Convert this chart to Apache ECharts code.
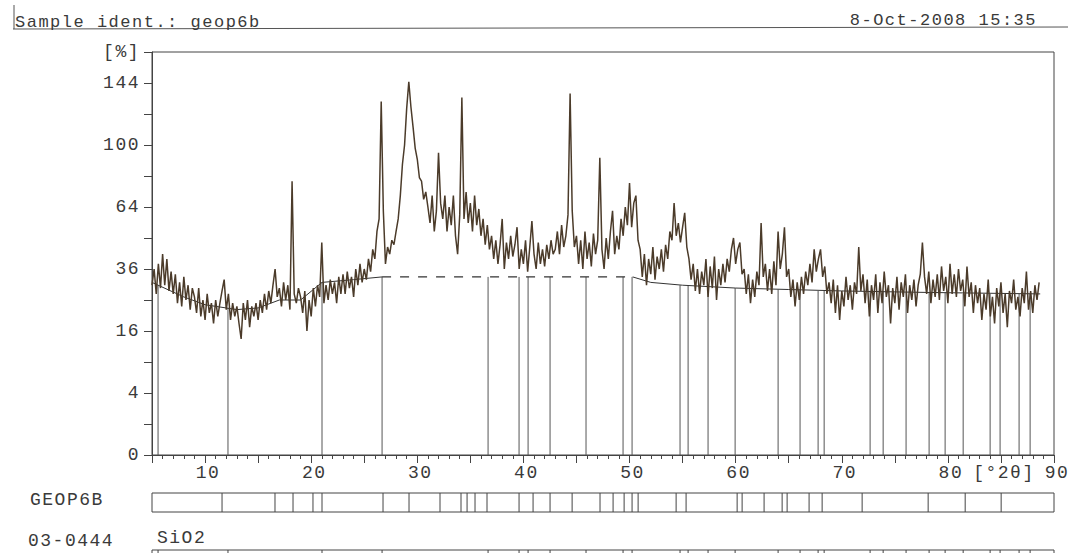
<!DOCTYPE html>
<html><head><meta charset="utf-8">
<script src="https://cdn.jsdelivr.net/npm/echarts@6/dist/echarts.min.js"></script>
<style>
html,body{margin:0;padding:0;background:#fff;}
#chart{width:1077px;height:553px;}
#chart text{letter-spacing:1.5px;}
</style></head>
<body><div id="chart"></div>
<script>
// ---- data ----
const scanStart = 5.0;   // °2θ of first step
const scanStep = 0.2;    // °2θ per step
const intensity = [
  30,36,27,38,29,42,30,40,28,35,
  27,34,24,31,23,33,25,30,22,29,
  26,21,29,20,25,19,27,21,24,18,
  25,20,24,28,32,22,27,19,24,20,
  23,18,14,24,19,25,17,23,20,24,
  19,25,21,27,22,28,24,30,36,26,
  29,23,31,25,30,22,78,27,24,29,
  26,21,28,16,25,20,29,23,30,26,
  47,24,30,25,32,27,31,24,33,27,
  34,27,35,29,33,26,36,30,38,31,
  36,32,40,35,44,40,52,58,130,62,
  38,45,42,48,46,52,58,70,88,100,
  125,145,126,112,98,91,80,78,68,72,
  64,56,70,52,62,95,66,58,70,52,
  64,55,70,50,42,60,133,58,72,56,
  66,52,70,55,63,50,58,46,55,44,
  50,40,48,38,46,58,36,47,40,50,
  41,46,54,36,44,38,48,35,45,57,
  42,36,47,38,44,37,46,40,48,42,
  44,52,42,55,45,50,60,136,62,45,
  50,38,48,36,52,40,47,37,51,42,
  48,92,44,36,49,40,52,62,42,50,
  44,58,50,64,55,77,54,66,70,48,
  44,33,42,30,40,34,45,32,41,36,
  44,35,46,40,52,48,66,50,56,47,
  54,61,45,40,32,38,28,36,27,35,
  30,40,26,37,29,41,25,36,30,38,
  31,40,35,44,49,38,44,47,34,36,
  27,34,24,32,26,35,30,56,33,38,
  28,36,27,39,30,52,36,42,54,33,
  36,26,32,23,31,25,33,27,35,30,
  38,31,44,35,40,44,33,37,27,31,
  24,32,21,30,19,28,23,33,25,30,
  22,31,27,45,28,34,24,32,20,30,
  25,34,21,31,24,35,26,30,18,29,
  24,33,22,31,26,34,21,30,25,32,
  23,30,34,47,33,27,35,24,32,26,
  34,25,37,28,33,24,38,27,34,26,
  36,28,32,23,37,26,31,21,30,24,
  29,19,27,22,32,20,26,18,29,23,
  31,21,27,17,28,24,32,22,26,20,
  29,24,35,22,28,21,30,25,31
];

// background curve (%), solid parts and dashed part
const bgLeftAngle  = [5, 8, 10, 13, 15, 17, 19, 21.02, 24, 26.68];
const bgLeftLevel  = [31, 26, 23.5, 22, 22.5, 25, 25, 31, 32, 33];
const bgDashAngle  = [26.68, 50.3];
const bgDashLevel  = [33, 33];
const bgRightAngle = [50.3, 52, 55, 60, 65, 70, 78, 88.7];
const bgRightLevel = [33, 31, 30, 29, 28.5, 28, 27.5, 27];

// reference pattern 03-0444 SiO2 line positions (°2θ) and stick tops (%)
const sio2Lines = [5.57,12.16,21.02,26.68,36.67,39.59,40.44,42.51,45.90,49.39,50.24,54.76,55.52,57.40,59.95,64.00,66.07,67.77,68.34,72.67,73.90,76.06,78.23,79.74,81.44,83.98,84.92,86.71,87.75];
const sio2Tops  = [30,22.5,31,33,33,33,33,33,33,33,33,30,30,29.5,29,28.5,28.5,28,28,28,28,27.5,27.5,27.5,27,27,27,27,27];

// sample GEOP6B peak list (°2θ)
const sampleLines = [11.60,16.59,18.29,20.17,21.02,26.77,29.22,32.14,34.12,34.69,35.44,36.57,39.59,40.91,42.51,44.59,47.22,48.45,49.49,50.24,50.81,54.39,55.33,60.14,60.61,62.68,64.38,64.85,66.92,68.15,71.92,78.14,81.63,85.02];

const xTickLabels = [10,20,30,40,50,60,70,80,90];
const xUnitLabel = '[°2θ]';
const yTickLabels = [0,4,16,36,64,100,144];
const yUnitLabel = '[%]';

const headerLeft = 'Sample ident.: geop6b';
const headerRight = '8-Oct-2008 15:35';
const sampleName = 'GEOP6B';
const refCode = '03-0444';
const refName = 'SiO2';

// ---- chart ----
const FONT = '"Liberation Mono", "DejaVu Sans Mono", monospace';
const TXT = '#3a3a3a';
const AX = '#444';
const sq = v => Math.sqrt(v);

const trace = intensity.map((v, i) => [+(scanStart + i * scanStep).toFixed(2), sq(v)]);
const pairs = (a, l) => a.map((x, i) => [x, sq(l[i])]);

function vline(color) {
  return function (params, api) {
    const p0 = api.coord([api.value(0), api.value(1)]);
    const p1 = api.coord([api.value(0), api.value(2)]);
    return { type: 'line', shape: { x1: p0[0], y1: p0[1], x2: p1[0], y2: p1[1] },
             style: { stroke: color, lineWidth: 1 } };
  };
}

const chart = echarts.init(document.getElementById('chart'), null, { renderer: 'svg' });
const rowAxisX = gi => ({ gridIndex: gi, type: 'value', min: 5, max: 90, show: false });
const rowAxisY = gi => ({ gridIndex: gi, type: 'value', min: 0, max: 1, show: false });

chart.setOption({
  animation: false,
  backgroundColor: '#fff',
  grid: [
    { left: 152, right: 23, top: 52, bottom: 98, show: true, borderColor: AX, borderWidth: 1, containLabel: false, outerBoundsMode: 'none' },
    { left: 152, right: 23, top: 493, height: 19, show: true, borderColor: AX, borderWidth: 1, containLabel: false, outerBoundsMode: 'none' },
    { left: 152, right: 23, top: 550, height: 20, show: true, borderColor: AX, borderWidth: 1, containLabel: false, outerBoundsMode: 'none' }
  ],
  xAxis: [
    { gridIndex: 0, type: 'value', min: 5, max: 90, interval: 5, position: 'bottom',
      axisLine: { show: true, lineStyle: { color: AX, width: 1 } },
      axisTick: { show: true, length: 8, lineStyle: { color: AX, width: 1 } },
      minorTick: { show: true, splitNumber: 5, length: 4, lineStyle: { color: AX, width: 1 } },
      splitLine: { show: false }, minorSplitLine: { show: false },
      axisLabel: { show: true, margin: 9, color: TXT, fontFamily: FONT, fontSize: 18, padding: [0, 0, 0, 6],
        showMinLabel: true, showMaxLabel: true,
        formatter: v => (v === 85 ? xUnitLabel : (xTickLabels.indexOf(v) >= 0 ? String(v) : '')) } },
    rowAxisX(1), rowAxisX(2)
  ],
  yAxis: [
    { gridIndex: 0, type: 'value', min: 0, max: 13, interval: 1,
      axisLine: { show: true, lineStyle: { color: AX, width: 1 } },
      axisTick: { show: true, length: 8, lineStyle: { color: AX, width: 1 } },
      splitLine: { show: false },
      axisLabel: { show: true, margin: 12, color: TXT, fontFamily: FONT, fontSize: 18,
        showMinLabel: true, showMaxLabel: true,
        formatter: v => {
          if (Math.abs(v - 13) < 1e-6) return yUnitLabel;
          const k = yTickLabels.findIndex(t => Math.abs(sq(t) - v) < 1e-6);
          return k >= 0 ? String(yTickLabels[k]) : '';
        } } },
    rowAxisY(1), rowAxisY(2)
  ],
  series: [
    { type: 'custom', xAxisIndex: 0, yAxisIndex: 0, z: 1, renderItem: vline('#555'),
      encode: { x: 0, y: [1, 2] },
      data: sio2Lines.map((a, i) => [a, 0, sq(sio2Tops[i])]) },
    { type: 'line', xAxisIndex: 0, yAxisIndex: 0, z: 2, symbol: 'none', silent: true,
      lineStyle: { color: '#333', width: 1 }, data: pairs(bgLeftAngle, bgLeftLevel) },
    { type: 'line', xAxisIndex: 0, yAxisIndex: 0, z: 2, symbol: 'none', silent: true,
      lineStyle: { color: '#333', width: 1.2, type: [9, 9] }, data: pairs(bgDashAngle, bgDashLevel) },
    { type: 'line', xAxisIndex: 0, yAxisIndex: 0, z: 2, symbol: 'none', silent: true,
      lineStyle: { color: '#333', width: 1 }, data: pairs(bgRightAngle, bgRightLevel) },
    { type: 'line', xAxisIndex: 0, yAxisIndex: 0, z: 3, symbol: 'none', silent: true,
      lineStyle: { color: '#4b3b2a', width: 1.5, join: 'miter', miterLimit: 3 }, data: trace },
    { type: 'custom', xAxisIndex: 1, yAxisIndex: 1, renderItem: vline(AX),
      encode: { x: 0, y: [1, 2] }, data: sampleLines.map(a => [a, 0, 1]) },
    { type: 'custom', xAxisIndex: 2, yAxisIndex: 2, renderItem: vline(AX),
      encode: { x: 0, y: [1, 2] }, data: sio2Lines.map(a => [a, 0, 1]) }
  ],
  graphic: [
    { type: 'line', shape: { x1: 14, y1: 5, x2: 14, y2: 29 }, style: { stroke: '#555', lineWidth: 1 } },
    { type: 'line', shape: { x1: 13, y1: 29, x2: 1068, y2: 27 }, style: { stroke: '#555', lineWidth: 1 } },
    { type: 'text', x: 15, y: 22, style: { text: headerLeft, font: '17px ' + FONT, fill: TXT, textAlign: 'left', textVerticalAlign: 'middle' } },
    { type: 'text', x: 1037, y: 20, style: { text: headerRight, font: '17px ' + FONT, fill: TXT, textAlign: 'right', textVerticalAlign: 'middle' } },
    { type: 'text', x: 30, y: 500, style: { text: sampleName, font: '18px ' + FONT, fill: TXT, textAlign: 'left', textVerticalAlign: 'middle' } },
    { type: 'text', x: 28, y: 541, style: { text: refCode, font: '18px ' + FONT, fill: TXT, textAlign: 'left', textVerticalAlign: 'middle' } },
    { type: 'text', x: 157, y: 538, style: { text: refName, font: '18px ' + FONT, fill: TXT, textAlign: 'left', textVerticalAlign: 'middle' } }
  ]
});
</script>
</body></html>
